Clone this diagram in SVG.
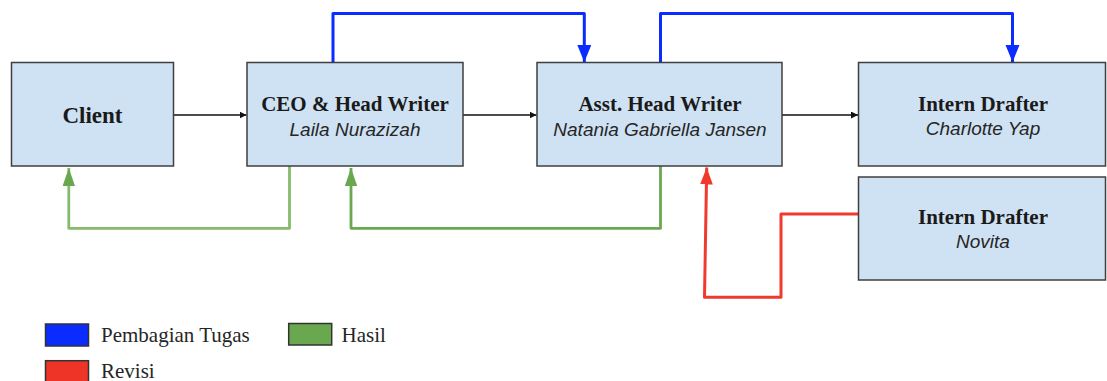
<svg xmlns="http://www.w3.org/2000/svg" width="1107" height="381" viewBox="0 0 1107 381">
<style>
.box{fill:#cfe2f3;stroke:#3f3f3f;stroke-width:1.5}
.t{font-family:"Liberation Serif","Times New Roman",serif;font-weight:bold;font-size:21px;fill:#1a1a1a;text-anchor:middle}
.n{font-family:"Liberation Sans",Arial,sans-serif;font-style:italic;font-size:19px;fill:#262626;text-anchor:middle}
.lg{font-family:"Liberation Serif","Times New Roman",serif;font-size:21px;fill:#262626}
.c{fill:none;stroke-linejoin:round}
.k{stroke:#111;stroke-width:1.3}
.b{stroke:#0a2cff;stroke-width:3}
.g{stroke:#6aa84f;stroke-width:2.8}
.g1{stroke:#86bb6b;stroke-width:2.8}
.r{stroke:#f03a2e;stroke-width:3}
.sw{stroke:#333;stroke-width:1.5}
</style>
<defs>
<marker id="ak" markerUnits="userSpaceOnUse" markerWidth="8" markerHeight="7" refX="7" refY="3.5" orient="auto"><path d="M0,0 L7,3.5 L0,7 Z" fill="#111"/></marker>
<marker id="ab" markerUnits="userSpaceOnUse" markerWidth="18" markerHeight="15" refX="17" refY="7" orient="auto"><path d="M0,0 L17,7 L0,14 Z" fill="#0a2cff"/></marker>
<marker id="ag" markerUnits="userSpaceOnUse" markerWidth="19" markerHeight="13" refX="18" refY="6.2" orient="auto"><path d="M0,0 L18,6.2 L0,12.4 Z" fill="#6aa84f"/></marker>
<marker id="ar" markerUnits="userSpaceOnUse" markerWidth="18" markerHeight="13" refX="17" refY="6.4" orient="auto"><path d="M0,0 L17,6.4 L0,12.8 Z" fill="#f03a2e"/></marker>
</defs>
<g id="connectors">
<path class="c k" d="M174,115 L246.5,115" marker-end="url(#ak)"/>
<path class="c k" d="M463,115 L536.5,115" marker-end="url(#ak)"/>
<path class="c k" d="M782,115 L858,115" marker-end="url(#ak)"/>
<path class="c b" d="M333,62.5 L333,13.5 L584.3,13.5 L584.3,62" marker-end="url(#ab)"/>
<path class="c b" d="M660.5,62.5 L660.5,13.5 L1012.5,13.5 L1012.5,62" marker-end="url(#ab)"/>
<path class="c g1" d="M289.5,166 L289.5,228.3 L68.8,228.3 L68.8,168" marker-end="url(#ag)"/>
<path class="c g" d="M660.5,166 L660.5,228.3 L351,228.3 L351,168" marker-end="url(#ag)"/>
<path class="c r" d="M858.5,214 L781,214 L781,297.3 L704.5,297.3 L706.7,167.5" marker-end="url(#ar)"/>
</g>
<g id="client">
<rect class="box" x="11.5" y="62.5" width="162" height="103.5"/>
<text class="t" x="92.5" y="123" style="font-size:23px">Client</text>
</g>
<g id="ceo">
<rect class="box" x="247" y="62.5" width="216" height="103.5"/>
<text class="t" x="355" y="111">CEO &amp; Head Writer</text>
<text class="n" x="355" y="136">Laila Nurazizah</text>
</g>
<g id="asst">
<rect class="box" x="537" y="62.5" width="245" height="103.5"/>
<text class="t" x="660" y="111">Asst. Head Writer</text>
<text class="n" x="660" y="136">Natania Gabriella Jansen</text>
</g>
<g id="intern-charlotte">
<rect class="box" x="858.5" y="62.5" width="247" height="103.5"/>
<text class="t" x="983" y="111">Intern Drafter</text>
<text class="n" x="983" y="135">Charlotte Yap</text>
</g>
<g id="intern-novita">
<rect class="box" x="858.5" y="177" width="247" height="103"/>
<text class="t" x="983" y="224">Intern Drafter</text>
<text class="n" x="983" y="248">Novita</text>
</g>
<g id="legend">
<rect class="sw" x="45.5" y="324" width="43" height="22" fill="#0a2cff"/>
<text class="lg" x="101" y="342">Pembagian Tugas</text>
<rect class="sw" x="288.7" y="323.5" width="43" height="21.5" fill="#6aa84f"/>
<text class="lg" x="341.5" y="342">Hasil</text>
<rect class="sw" x="45.5" y="360.7" width="43" height="22" fill="#ee3426"/>
<text class="lg" x="101" y="377.5">Revisi</text>
</g>
</svg>
